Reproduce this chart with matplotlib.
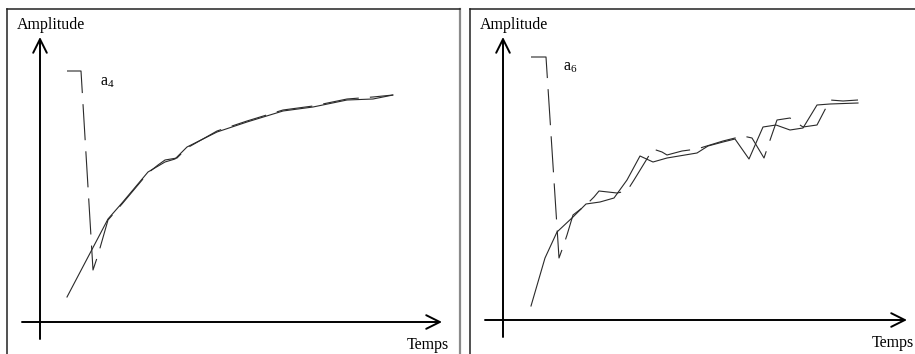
import matplotlib
matplotlib.use("Agg")
import matplotlib.pyplot as plt

plt.rcParams["font.family"] = ["Liberation Serif", "DejaVu Serif"]
plt.rcParams["mathtext.fontset"] = "custom"
plt.rcParams["mathtext.rm"] = "Liberation Serif"
plt.rcParams["mathtext.it"] = "Liberation Serif:italic"
plt.rcParams["lines.scale_dashes"] = False

# Panel a4: reference response (solid) and estimated response (dashed)
t4_ref = [2.7, 6.8, 8.2, 10.8, 12.5, 13.5, 14.7, 17.7, 20.7, 24.3, 27.3, 30.7, 33.3, 35.3]
a4_ref = [2.5, 10.3, 11.9, 15.0, 16.0, 16.3, 17.5, 19.0, 20.0, 21.1, 21.5, 22.2, 22.3, 22.7]
t4_est = [2.7, 4.1, 5.3, 5.8, 6.8, 8.2, 10.8, 11.8, 12.5, 13.7, 14.7, 17.7, 20.7, 24.3,
          27.3, 30.7, 33.3, 35.3]
a4_est = [25.1, 25.1, 5.2, 6.7, 10.2, 11.8, 14.9, 15.7, 16.2, 16.4, 17.4, 19.1, 20.1, 21.2,
          21.6, 22.3, 22.5, 22.7]

# Panel a6: reference response (solid) and estimated response (dashed)
t6_ref = [2.8, 4.2, 5.4, 7.0, 8.3, 9.7, 11.1, 12.4, 13.7, 15.0, 16.4, 19.4, 20.5, 22.0,
          23.2, 24.6, 26.0, 27.3, 28.7, 30.0, 31.4, 32.7, 35.5]
a6_ref = [1.4, 6.2, 8.8, 10.3, 11.6, 11.8, 12.2, 14.0, 16.4, 15.8, 16.2, 16.7, 17.4, 17.8,
          18.1, 16.1, 19.3, 19.5, 19.0, 19.2, 21.5, 21.6, 21.7]
t6_est = [2.8, 4.3, 5.6, 6.0, 6.4, 7.0, 8.3, 9.1, 9.6, 11.4, 12.4, 13.1, 15.0, 15.9, 16.4,
          17.9, 19.4, 22.0, 24.0, 24.9, 26.1, 26.5, 27.4, 28.7, 29.4, 30.0, 31.4, 32.7,
          34.0, 35.5]
a6_est = [26.3, 26.3, 6.2, 7.3, 8.5, 10.5, 11.5, 12.3, 12.9, 12.7, 12.9, 14.0, 17.1, 16.8,
          16.5, 16.9, 17.1, 17.9, 18.4, 18.2, 16.2, 17.4, 20.0, 20.2, 19.7, 19.3, 19.5,
          22.0, 21.9, 22.0]

W, H = 915, 354
fig = plt.figure(figsize=(W / 100, H / 100), dpi=100)

LINE = "#2a2a2a"


def panel(px_left, px_right, px_top, px_bottom, ox, oy, right_color):
    ax = fig.add_axes([px_left / W, 1 - px_bottom / H,
                       (px_right - px_left) / W, (px_bottom - px_top) / H])
    ax.set_xlim((px_left - ox) / 10, (px_right - ox) / 10)
    ax.set_ylim((oy - px_bottom) / 10, (oy - px_top) / 10)
    ax.set_xticks([])
    ax.set_yticks([])
    for side, sp in ax.spines.items():
        sp.set_linewidth(1.1)
        sp.set_color("#222222")
    ax.spines["right"].set_color(right_color)
    ax.spines["right"].set_linewidth(1.6)
    ax.spines["bottom"].set_visible(False)
    return ax


def axes_arrows(ax, x_end, y_end):
    style = dict(arrowstyle="->,head_length=0.7,head_width=0.35", lw=1.4,
                 color="black", shrinkA=0, shrinkB=0, mutation_scale=14)
    ax.annotate("", xy=(x_end, 0), xytext=(-1.8, 0), arrowprops=style)
    ax.annotate("", xy=(0, y_end), xytext=(0, -1.7), arrowprops=style)


ax1 = panel(7, 460, 9, 372, 40, 322, "#8a8a8a")
axes_arrows(ax1, 40.2, 28.5)
ax1.plot(t4_ref, a4_ref, color=LINE, lw=0.8)
ax1.plot(t4_est, a4_est, color=LINE, lw=0.8, dashes=(26, 8))
ax1.text(-2.3, 29.7, "Amplitude", fontsize=11.5, va="center", ha="left")
ax1.text(40.9, -2.3, "Temps", fontsize=11.5, va="center", ha="right")
ax1.text(6.0, 24.0, r"$\mathrm{a}_4$", fontsize=11.5, va="center", ha="left")

ax2 = panel(470, 930, 9, 372, 503, 320, "#222222")
axes_arrows(ax2, 40.4, 28.3)
ax2.plot(t6_ref, a6_ref, color=LINE, lw=0.8)
ax2.plot(t6_est, a6_est, color=LINE, lw=0.8, dashes=(26, 8))
ax2.text(-2.3, 29.5, "Amplitude", fontsize=11.5, va="center", ha="left")
ax2.text(41.1, -2.3, "Temps", fontsize=11.5, va="center", ha="right")
ax2.text(6.0, 25.3, r"$\mathrm{a}_6$", fontsize=11.5, va="center", ha="left")

fig.savefig("out.png", dpi=100)
